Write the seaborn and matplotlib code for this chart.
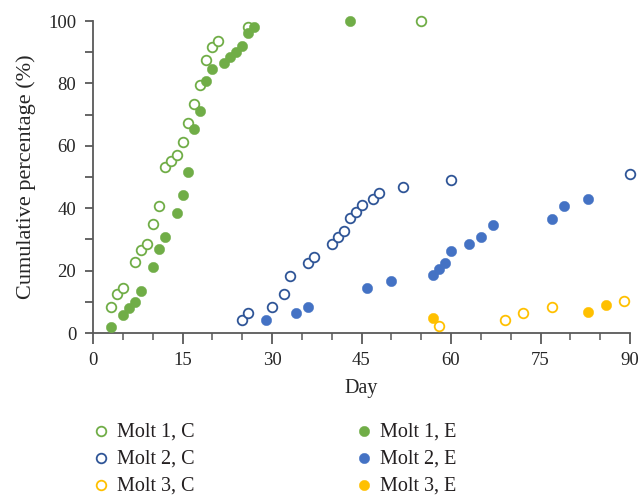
import matplotlib
matplotlib.use("Agg")
import matplotlib.pyplot as plt
import seaborn as sns
import pandas as pd
from matplotlib.ticker import MultipleLocator

# ---- data ----
molt1_c_day = [3, 4, 5, 7, 8, 9, 10, 11, 12, 13, 14, 15, 16, 17, 18, 19, 20, 21, 26, 55]
molt1_c_val = [8.3, 12.5, 14.5, 22.7, 26.6, 28.5, 34.8, 40.8, 53.3, 55.0, 57.1, 61.2,
               67.3, 73.5, 79.6, 87.6, 91.8, 93.6, 98.0, 100.0]

molt2_c_day = [25, 26, 30, 32, 33, 36, 37, 40, 41, 42, 43, 44, 45, 47, 48, 52, 60, 90]
molt2_c_val = [4.2, 6.3, 8.4, 12.5, 18.4, 22.5, 24.5, 28.6, 30.7, 32.6, 36.8, 38.9,
               41.0, 42.9, 45.0, 46.9, 49.0, 51.0]

molt3_c_day = [58, 69, 72, 77, 89]
molt3_c_val = [2.3, 4.2, 6.4, 8.2, 10.4]

molt1_e_day = [3, 5, 6, 7, 8, 10, 11, 12, 14, 15, 16, 17, 18, 19, 20, 22, 23, 24, 25, 26, 27, 43]
molt1_e_val = [2.0, 5.9, 8.0, 9.9, 13.6, 21.3, 26.9, 30.9, 38.6, 44.3, 51.7, 65.3,
               71.3, 80.8, 84.5, 86.4, 88.4, 90.2, 92.1, 96.1, 98.2, 100.0]

molt2_e_day = [29, 34, 36, 46, 50, 57, 58, 59, 60, 63, 65, 67, 77, 79, 83]
molt2_e_val = [4.2, 6.4, 8.3, 14.5, 16.6, 18.5, 20.5, 22.5, 26.4, 28.6, 30.7, 34.7,
               36.6, 40.7, 42.9]

molt3_e_day = [57, 83, 86]
molt3_e_val = [4.7, 6.7, 9.0]

x_ticks = [0, 15, 30, 45, 60, 75, 90]
y_ticks = [0, 20, 40, 60, 80, 100]

series = [
    ("Molt 1, C", molt1_c_day, molt1_c_val, "#70ad47", False),
    ("Molt 2, C", molt2_c_day, molt2_c_val, "#2f5597", False),
    ("Molt 3, C", molt3_c_day, molt3_c_val, "#ffc000", False),
    ("Molt 1, E", molt1_e_day, molt1_e_val, "#70ad47", True),
    ("Molt 2, E", molt2_e_day, molt2_e_val, "#4472c4", True),
    ("Molt 3, E", molt3_e_day, molt3_e_val, "#ffc000", True),
]

sns.set_style("white")
plt.rcParams["font.family"] = ["Liberation Serif", "DejaVu Serif"]
plt.rcParams["text.color"] = "#231f20"

fig = plt.figure(figsize=(6.41, 4.96), dpi=100)
ax = fig.add_axes([93 / 641, 1 - 333 / 496, (630 - 93) / 641, (333 - 21) / 496])

for label, d, v, col, filled in series:
    df = pd.DataFrame({"Day": d, "Val": v})
    if filled:
        sns.scatterplot(data=df, x="Day", y="Val", ax=ax, s=56, color=col,
                        edgecolor=col, linewidth=0.3, clip_on=False, zorder=4,
                        label=label)
    else:
        sns.scatterplot(data=df, x="Day", y="Val", ax=ax, s=48, facecolor="white",
                        edgecolor=col, linewidth=1.3, clip_on=False, zorder=3,
                        label=label)

ax.set_xlim(0, 90)
ax.set_ylim(0, 100)
ax.set_xticks(x_ticks)
ax.set_yticks(y_ticks)
ax.xaxis.set_minor_locator(MultipleLocator(5))
ax.yaxis.set_minor_locator(MultipleLocator(10))

spine_col = "#595959"
for s in ["top", "right"]:
    ax.spines[s].set_visible(False)
for s in ["left", "bottom"]:
    ax.spines[s].set_color(spine_col)
    ax.spines[s].set_linewidth(1.3)

ax.tick_params(axis="x", which="major", direction="out", length=8, width=1.3,
               color=spine_col, labelsize=13.5, pad=6, bottom=True)
ax.tick_params(axis="x", which="minor", direction="out", length=5, width=1.1,
               color=spine_col, bottom=True)
ax.tick_params(axis="y", which="both", direction="out", length=6, width=1.3,
               color=spine_col, labelsize=13.5, pad=6, left=True)

ax.set_xlabel("Day", fontsize=14.5, labelpad=7)
ax.set_ylabel("Cumulative percentage (%)", fontsize=16, labelpad=9)

h, l = ax.get_legend_handles_labels()
ax.get_legend().remove()
fig.legend(h, l, ncol=2, frameon=False, loc="upper left",
           bbox_to_anchor=(91 / 641, 1 - 422 / 496), fontsize=14.5,
           handlelength=1.0, handletextpad=0.3, columnspacing=7.9,
           labelspacing=0.4, borderaxespad=0, borderpad=0)

fig.savefig("out.png", dpi=100)
